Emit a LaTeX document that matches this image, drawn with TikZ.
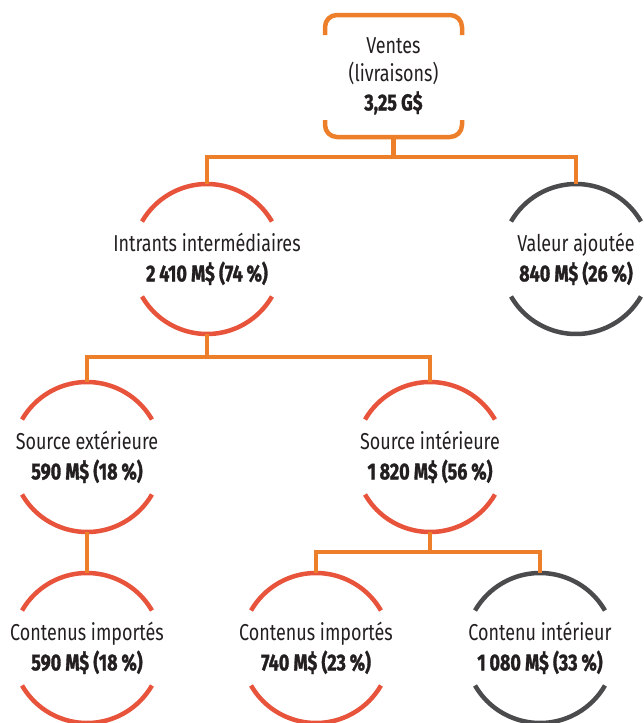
\documentclass[tikz,border=0pt]{standalone}
\usepackage{fontspec}
\setmainfont[FakeStretch=0.78, BoldFeatures={FakeBold=1.3}]{Fira Sans}
\usetikzlibrary{calc}
\definecolor{conn}{HTML}{EE7F2A}
\definecolor{redc}{HTML}{E8533B}
\definecolor{grayc}{HTML}{4B4B4D}
\definecolor{txt}{HTML}{231F20}
\tikzset{
  connline/.style={draw=conn, line width=4.5pt},
  circnode/.style={circle, minimum size=150pt, inner sep=0pt, outer sep=0pt},
  lbl/.style={inner sep=0pt, align=center, text=txt, font=\fontsize{23}{30}\selectfont},
  topbox/.style={rectangle, minimum width=137pt, minimum height=122pt, inner sep=0pt, outer sep=0pt, align=center, text=txt, font=\fontsize{23}{28.5}\selectfont},
  redarc/.style={draw=redc, line width=4.5pt},
  grayarc/.style={draw=grayc, line width=4.5pt}
}
\newcommand{\gapcircle}[2]{%
  \draw[#2] (#1.30) arc[start angle=30, end angle=150, radius=75pt];
  \draw[#2] (#1.210) arc[start angle=210, end angle=330, radius=75pt];
}
\begin{document}
\begin{tikzpicture}[x=1pt, y=-1pt]
\useasboundingbox (0,0) rectangle (643,723);
% top box
\node[topbox] (tb) at (393.5,76) {Ventes\\(livraisons)\\\textbf{3,25 G\$}};
\draw[connline, rounded corners=12pt] ($(tb.north west)+(0,20)$) |- (tb.north) -| ($(tb.north east)+(0,20)$);
\draw[connline, rounded corners=12pt] ($(tb.south west)+(0,-17)$) |- (tb.south) -| ($(tb.south east)+(0,-17)$);
% circles
\node[circnode] (intr) at (207,259) {};
\node[circnode] (val) at (576,259) {};
\node[circnode] (sext) at (87,457) {};
\node[circnode] (sint) at (430,457) {};
\node[circnode] (cimp1) at (87,648) {};
\node[circnode] (cimp2) at (316,648) {};
\node[circnode] (cint) at (540,648) {};
\node[lbl] (tintr) at (intr) {Intrants intermédiaires\\\textbf{2\,410 M\$ (74\,\%)}};
\node[lbl] (tval) at (val) {Valeur ajoutée\\\textbf{840 M\$ (26\,\%)}};
\node[lbl] (tsext) at (sext) {Source extérieure\\\textbf{590 M\$ (18\,\%)}};
\node[lbl] (tsint) at (sint) {Source intérieure\\\textbf{1\,820 M\$ (56\,\%)}};
\node[lbl] (tcimp1) at (cimp1) {Contenus importés\\\textbf{590 M\$ (18\,\%)}};
\node[lbl] (tcimp2) at (cimp2) {Contenus importés\\\textbf{740 M\$ (23\,\%)}};
\node[lbl] (tcint) at (cint) {Contenu intérieur\\\textbf{1\,080 M\$ (33\,\%)}};
\gapcircle{intr}{redarc}
\gapcircle{val}{grayarc}
\gapcircle{sext}{redarc}
\gapcircle{sint}{redarc}
\gapcircle{cimp1}{redarc}
\gapcircle{cimp2}{redarc}
\gapcircle{cint}{grayarc}
% connectors
\coordinate (b1) at (393.5,157);
\coordinate (b2) at (207,357);
\coordinate (b3) at (430,552);
\draw[connline] (tb.south) -- (b1);
\draw[connline] (intr.north) |- (b1) -| (val.north);
\draw[connline] (intr.south) -- (b2);
\draw[connline] (sext.north) |- (b2) -| (sint.north);
\draw[connline] (sext.south) -- (cimp1.north);
\draw[connline] (sint.south) -- (b3);
\draw[connline] (cimp2.north) |- (b3) -| (cint.north);
\end{tikzpicture}
\end{document}
